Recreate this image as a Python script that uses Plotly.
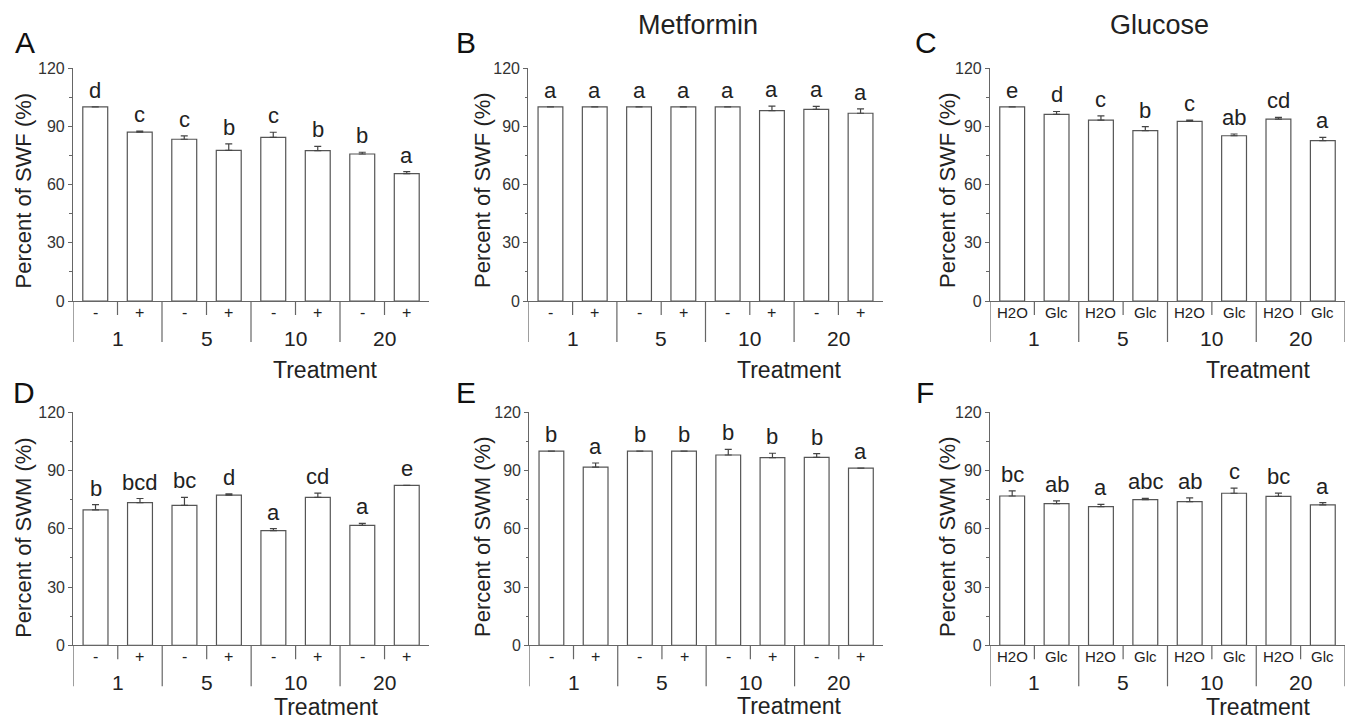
import plotly.graph_objects as go

W, H = 1346, 721
FONT = "Liberation Sans, Arial, sans-serif"

# ---------------- data ----------------
groups = ["1", "5", "10", "20"]
sub_pm = ["-", "+"] * 4
sub_glc = ["H2O", "Glc"] * 4

A_vals = [100, 87.0, 83.3, 77.6, 84.3, 77.4, 75.7, 65.6]
A_err = [0, 0.5, 1.7, 3.3, 2.6, 2.2, 0.9, 1.0]
A_let = ["d", "c", "c", "b", "c", "b", "b", "a"]

B_vals = [100, 100, 100, 100, 100, 98.0, 98.7, 96.7]
B_err = [0, 0, 0, 0, 0, 2.4, 1.5, 2.2]
B_let = ["a", "a", "a", "a", "a", "a", "a", "a"]

C_vals = [100, 96.1, 93.2, 87.7, 92.5, 85.1, 93.7, 82.6]
C_err = [0, 1.5, 2.1, 2.1, 0.7, 0.9, 0.9, 1.7]
C_let = ["e", "d", "c", "b", "c", "ab", "cd", "a"]

D_vals = [69.7, 73.5, 72.1, 77.3, 59.1, 76.2, 61.8, 82.4]
D_err = [2.7, 2.1, 4.1, 0.7, 1.0, 2.2, 1.0, 0]
D_let = ["b", "bcd", "bc", "d", "a", "cd", "a", "e"]

E_vals = [100, 91.8, 100, 100, 98.0, 96.7, 96.8, 91.2]
E_err = [0, 2.1, 0, 0, 2.9, 2.2, 1.9, 0]
E_let = ["b", "a", "b", "b", "b", "b", "b", "a"]

F_vals = [76.9, 73.0, 71.4, 75.0, 74.0, 78.3, 76.7, 72.3]
F_err = [2.6, 1.4, 1.2, 0.7, 1.9, 2.6, 1.7, 1.2]
F_let = ["bc", "ab", "a", "abc", "ab", "c", "bc", "a"]

y_ticks = [0, 30, 60, 90, 120]


def px(p):
    return p / W


def py(p):
    return 1 - p / H


panels = [
    dict(tag="A", vals=A_vals, err=A_err, let=A_let, sub=sub_pm, xd=(73, 429), yd=(68, 301),
         ytitle="Percent of SWF (%)", yt=(23, 190.5), lab=(25, 43), tr=(325, 370), rsep=False),
    dict(tag="B", vals=B_vals, err=B_err, let=B_let, sub=sub_pm, xd=(528.3, 882.7), yd=(68, 301),
         ytitle="Percent of SWF (%)", yt=(482.5, 190.5), lab=(466, 43), tr=(789.6, 370), rsep=False),
    dict(tag="C", vals=C_vals, err=C_err, let=C_let, sub=sub_glc, xd=(990, 1345), yd=(68, 301),
         ytitle="Percent of SWF (%)", yt=(947.5, 190.5), lab=(926, 43), tr=(1258.6, 370), rsep=True),
    dict(tag="D", vals=D_vals, err=D_err, let=D_let, sub=sub_pm, xd=(73.3, 429), yd=(412.3, 645.3),
         ytitle="Percent of SWM (%)", yt=(23.3, 537.5), lab=(24, 392), tr=(326, 706.5), rsep=False),
    dict(tag="E", vals=E_vals, err=E_err, let=E_let, sub=sub_pm, xd=(529.3, 883), yd=(412.3, 645.3),
         ytitle="Percent of SWM (%)", yt=(482.5, 537.5), lab=(466, 392), tr=(789.6, 705.5), rsep=False),
    dict(tag="F", vals=F_vals, err=F_err, let=F_let, sub=sub_glc, xd=(990, 1345), yd=(412.3, 645.3),
         ytitle="Percent of SWM (%)", yt=(947.5, 537.5), lab=(925, 392), tr=(1258.6, 706.5), rsep=True),
]

LINE = "#666666"
TXT = "#222222"

fig = go.Figure()
annotations = []
shapes = []
layout = {}

for i, p in enumerate(panels, start=1):
    xa = "x" if i == 1 else f"x{i}"
    ya = "y" if i == 1 else f"y{i}"
    xs = list(range(8))
    fig.add_trace(go.Bar(
        x=xs, y=p["vals"], xaxis=xa, yaxis=ya, width=0.56,
        marker=dict(color="white", line=dict(color="#555555", width=1.2)),
        error_y=dict(type="data", symmetric=False, array=p["err"], arrayminus=[0] * 8,
                     color="#444444", thickness=1.2, width=3.5),
        showlegend=False, hoverinfo="skip",
    ))
    layout[f"xaxis{'' if i == 1 else i}"] = dict(
        domain=[px(p["xd"][0]), px(p["xd"][1])], anchor=ya, range=[-0.5, 7.5],
        showline=True, linecolor=LINE, linewidth=1.2, showticklabels=False, ticks="",
        showgrid=False, zeroline=False, fixedrange=True, automargin=False,
    )
    layout[f"yaxis{'' if i == 1 else i}"] = dict(
        domain=[py(p["yd"][1]), py(p["yd"][0])], anchor=xa, range=[0, 120],
        tickvals=y_ticks, ticks="outside", ticklen=4, tickwidth=1.2, tickcolor=LINE,
        showline=True, linecolor=LINE, linewidth=1.2, showgrid=False, zeroline=False,
        tickfont=dict(family=FONT, size=16, color="#333333"),
        minor=dict(dtick=15, ticks="outside", ticklen=2.5, tickcolor=LINE, showgrid=False),
        fixedrange=True, automargin=False,
    )
    base = p["yd"][1]
    # letters above bars
    for j in range(8):
        annotations.append(dict(
            x=j, y=p["vals"][j] + p["err"][j], xref=xa, yref=ya, text=p["let"][j],
            showarrow=False, yanchor="bottom", yshift=2,
            font=dict(family=FONT, size=22, color=TXT),
        ))
        annotations.append(dict(
            x=j, y=py(base + 11), xref=xa, yref="paper", text=p["sub"][j],
            showarrow=False, yanchor="middle",
            font=dict(family=FONT, size=16 if p["sub"] is sub_pm else 15, color=TXT),
        ))
    for g, gl in enumerate(groups):
        annotations.append(dict(
            x=2 * g + 0.5, y=py(base + 37), xref=xa, yref="paper", text=gl,
            showarrow=False, yanchor="middle",
            font=dict(family=FONT, size=21, color=TXT),
        ))
    # separators
    for xv in [0.5, 2.5, 4.5, 6.5]:
        shapes.append(dict(type="line", xref=xa, yref="paper", x0=xv, x1=xv,
                           y0=py(base), y1=py(base + 14), line=dict(color=LINE, width=1.2)))
    majors = [-0.5, 1.5, 3.5, 5.5] + ([7.5] if p["rsep"] else [])
    for xv in majors:
        shapes.append(dict(type="line", xref=xa, yref="paper", x0=xv, x1=xv,
                           y0=py(base), y1=py(base + 41), line=dict(color=LINE, width=1.2)))
    # y title
    annotations.append(dict(
        x=px(p["yt"][0]), y=py(p["yt"][1]), xref="paper", yref="paper", text=p["ytitle"],
        textangle=-90, showarrow=False, xanchor="center", yanchor="middle",
        font=dict(family=FONT, size=22, color=TXT),
    ))
    # panel letter
    annotations.append(dict(
        x=px(p["lab"][0]), y=py(p["lab"][1]), xref="paper", yref="paper", text=p["tag"],
        showarrow=False, xanchor="center", yanchor="middle",
        font=dict(family=FONT, size=30, color="#111111"),
    ))
    # Treatment
    annotations.append(dict(
        x=px(p["tr"][0]), y=py(p["tr"][1]), xref="paper", yref="paper", text="Treatment",
        showarrow=False, xanchor="center", yanchor="middle",
        font=dict(family=FONT, size=23, color=TXT),
    ))

for txt, cx in [("Metformin", 698), ("Glucose", 1159)]:
    annotations.append(dict(
        x=px(cx), y=py(25), xref="paper", yref="paper", text=txt, showarrow=False,
        xanchor="center", yanchor="middle", font=dict(family=FONT, size=27, color=TXT),
    ))

fig.update_layout(
    width=W, height=H, margin=dict(l=0, r=0, t=0, b=0, autoexpand=False),
    paper_bgcolor="white", plot_bgcolor="white",
    annotations=annotations, shapes=shapes, bargap=0.44,
    **layout,
)

fig.write_html(
    "out.html",
    config={"displayModeBar": False},
    post_script="document.body.style.margin='0px';document.body.style.padding='0px';"
                "document.body.style.overflow='hidden';",
)
